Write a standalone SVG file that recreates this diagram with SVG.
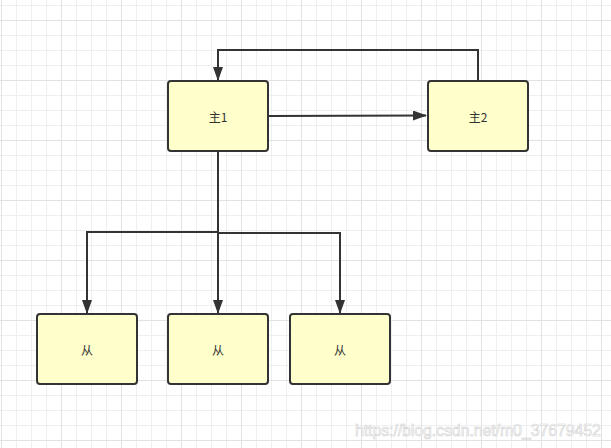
<svg xmlns="http://www.w3.org/2000/svg" width="611" height="448" viewBox="0 0 611 448">
<defs>
<pattern id="minor" width="15" height="15" patternUnits="userSpaceOnUse" x="1" y="5">
<path d="M0.5 0V15M0 0.5H15" fill="none" stroke="#efefef" stroke-width="1"/>
</pattern>
<pattern id="major" width="60" height="60" patternUnits="userSpaceOnUse" x="1" y="20">
<path d="M0.5 0V60M0 0.5H60" fill="none" stroke="#e2e2e2" stroke-width="1"/>
</pattern>
<marker id="arr" viewBox="0 0 14 10" refX="13" refY="5" markerWidth="14" markerHeight="10" markerUnits="userSpaceOnUse" orient="auto">
<path d="M0 0L14 5L0 10Z" fill="#333333"/>
</marker>
<style>
.node rect{fill:#ffffcc;stroke:#333333;stroke-width:2}
.node text{font-family:"Noto Sans CJK SC","Liberation Sans",sans-serif;font-size:12px;fill:#333333;text-anchor:middle;dominant-baseline:central}
.edge{fill:none;stroke:#333333;stroke-width:2}
</style>
</defs>
<rect width="611" height="448" fill="#ffffff"/>
<rect width="611" height="448" fill="url(#minor)"/>
<rect width="611" height="448" fill="url(#major)"/>
<g id="connectors">
<path class="edge" d="M268 116L426 115.5" marker-end="url(#arr)"/>
<path class="edge" d="M478 81V50H218V80" marker-end="url(#arr)"/>
<path class="edge" d="M218 151V232H87V313" marker-end="url(#arr)"/>
<path class="edge" d="M218 151V313" marker-end="url(#arr)"/>
<path class="edge" d="M218 151V233H340V313" marker-end="url(#arr)"/>
</g>
<g id="master1" class="node"><rect x="168" y="81" width="100" height="70" rx="3"/><text x="218" y="116">主1</text></g>
<g id="master2" class="node"><rect x="428" y="81" width="100" height="70" rx="3"/><text x="478" y="116">主2</text></g>
<g id="slave1" class="node"><rect x="37" y="314" width="100" height="70" rx="3"/><text x="87" y="349">从</text></g>
<g id="slave2" class="node"><rect x="168" y="314" width="100" height="70" rx="3"/><text x="218" y="349">从</text></g>
<g id="slave3" class="node"><rect x="290" y="314" width="100" height="70" rx="3"/><text x="340" y="349">从</text></g>
<text x="355" y="436" textLength="246" font-family="Liberation Sans, sans-serif" font-size="16" fill="#ffffff" stroke="#d0d0d0" stroke-width="0.6">https://blog.csdn.net/m0_37679452</text>
</svg>
